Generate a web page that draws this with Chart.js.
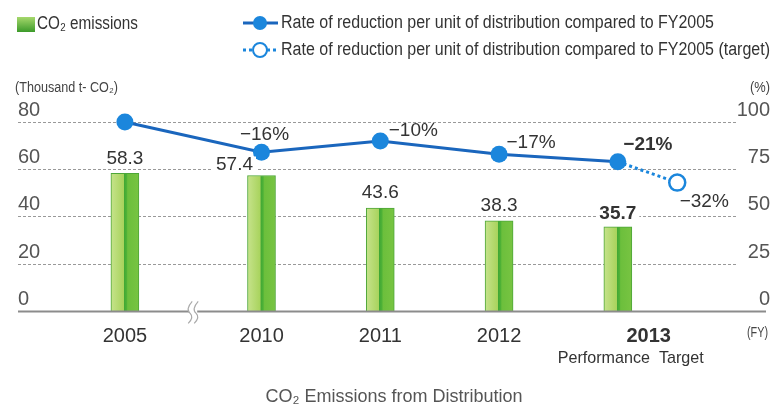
<!DOCTYPE html>
<html>
<head>
<meta charset="utf-8">
<script src="https://cdn.jsdelivr.net/npm/chart.js@4"></script>
<style>
  html, body { margin: 0; padding: 0; background: #fff; }
</style>
</head>
<body>
<canvas id="co2-chart" width="772" height="410"></canvas>
<script>
// Chart data
var years = ['2005', '2010', '2011', '2012', '2013'];
var yearSlots = [-0.15, 1, 2, 3, 4];            // slot of each year on the x scale (gap after 2005)
var labelSlots = [-0.15, 1, 2, 3, 4.26];        // where the year names sit
var emissions = [58.3, 57.4, 43.6, 38.3, 35.7]; // thousand t-CO2
var rateIndex = [100, 84, 90, 83, 79];          // FY2005 = 100
var rateLabels = ['', '−16%', '−10%', '−17%', '−21%'];
var targetSlots = [4, 4.5];
var targetIndex = [79, 68];
var targetLabels = ['', '−32%'];

var REG = '"Liberation Sans", Arial, sans-serif';
var BLUE = '#1a66bd';
var DOT = '#1b86dc';

function toPoints(xs, ys) {
  return xs.map(function (x, i) { return { x: x, y: ys[i] }; });
}

// horizontal two-tone green fill for each bar
function barFill(ctx) {
  var chart = ctx.chart;
  if (!chart.chartArea || ctx.dataIndex === undefined) return '#8cc84b';
  var cx = chart.scales.x.getPixelForValue(yearSlots[ctx.dataIndex]);
  var g = chart.ctx.createLinearGradient(cx - 14, 0, cx + 14, 0);
  g.addColorStop(0, '#c6e38c');
  g.addColorStop(0.46, '#a8d35c');
  g.addColorStop(0.47, '#3fa735');
  g.addColorStop(0.56, '#4fb236');
  g.addColorStop(0.6, '#6cbf3c');
  g.addColorStop(1, '#78c442');
  return g;
}

// condensed text: squeeze horizontally to a given width
function narrowText(c, text, x, y, width, align) {
  var w = c.measureText(text).width;
  var sx = width ? width / w : 0.85;
  c.save();
  c.translate(x, y);
  c.scale(sx, 1);
  c.textAlign = align || 'left';
  c.fillText(text, 0, 0);
  c.restore();
  return sx;
}

/*******************************
* Extra text and marks: legend, labels, axis titles,
* axis break and baseline
*******************************/
var decorations = {
  id: 'decorations',
  afterDatasetsDraw: function (chart) {
    var c = chart.ctx;
    var x = chart.scales.x, y = chart.scales.y, y2 = chart.scales.y2;
    var area = chart.chartArea;
    c.save();

    // baseline
    c.strokeStyle = '#8c8c8c';
    c.lineWidth = 2;
    c.beginPath();
    c.moveTo(area.left, area.bottom);
    c.lineTo(766, area.bottom);
    c.stroke();

    // axis break
    var bx = x.getPixelForValue((yearSlots[0] + yearSlots[1]) / 2);
    c.fillStyle = '#fff';
    c.fillRect(bx - 4, area.bottom - 3, 8, 6);
    c.strokeStyle = '#aaa';
    c.lineWidth = 1.2;
    [-3, 3].forEach(function (d) {
      c.beginPath();
      c.moveTo(bx + d + 2, area.bottom - 10);
      c.quadraticCurveTo(bx + d - 5, area.bottom - 2, bx + d, area.bottom + 2);
      c.quadraticCurveTo(bx + d + 4, area.bottom + 6, bx + d - 2, area.bottom + 12);
      c.stroke();
    });

    // bar value labels
    var barOffs = [[0, -15], [-27, -11], [0, -15], [0, -15], [0, -13]];
    c.textAlign = 'center';
    c.textBaseline = 'middle';
    emissions.forEach(function (v, i) {
      var px = x.getPixelForValue(yearSlots[i]) + barOffs[i][0];
      var py = y.getPixelForValue(v) + barOffs[i][1];
      c.font = (i === 4 ? 'bold ' : '') + '19px ' + REG;
      var w = c.measureText(v.toFixed(1)).width;
      c.fillStyle = '#fff';
      c.fillRect(px - w / 2 - 3, py - 8, w + 6, 16);
      c.fillStyle = '#333';
      c.fillText(v.toFixed(1), px, py);
    });

    // rate labels
    var offs = [[0, 0], [3, -18], [33, -10], [32, -11], [30, -17]];
    rateLabels.forEach(function (t, i) {
      if (!t) return;
      c.font = (i === 4 ? 'bold ' : '') + '19px ' + REG;
      c.fillStyle = '#333';
      c.fillText(t, x.getPixelForValue(yearSlots[i]) + offs[i][0], y2.getPixelForValue(rateIndex[i]) + offs[i][1]);
    });
    targetLabels.forEach(function (t, i) {
      if (!t) return;
      c.font = '19px ' + REG;
      c.fillStyle = '#333';
      c.fillText(t, x.getPixelForValue(targetSlots[i]) + 27, y2.getPixelForValue(targetIndex[i]) + 19);
    });

    // performance target note under 2013
    c.font = '17px ' + REG;
    c.fillStyle = '#333';
    narrowText(c, 'Performance  Target', x.getPixelForValue(labelSlots[4]) - 18, area.bottom + 47, 146, 'center');

    // axis titles
    c.font = '14px ' + REG;
    c.fillStyle = '#444';
    narrowText(c, '(Thousand t- CO₂)', 15, 88, 103);
    narrowText(c, '(%)', 770, 88, 20, 'right');
    narrowText(c, '(FY)', 768, area.bottom + 22, 21, 'right');

    // legend
    var lg = c.createLinearGradient(0, 17, 0, 32);
    lg.addColorStop(0, '#a6d86c');
    lg.addColorStop(1, '#3c9a2a');
    c.fillStyle = lg;
    c.fillRect(17, 17, 18, 15);
    c.font = '18px ' + REG;
    c.fillStyle = '#333';
    narrowText(c, 'CO₂ emissions', 37, 24, 101);

    c.strokeStyle = BLUE;
    c.lineWidth = 3;
    c.beginPath(); c.moveTo(243, 23); c.lineTo(278, 23); c.stroke();
    c.fillStyle = DOT;
    c.beginPath(); c.arc(260, 23, 7, 0, Math.PI * 2); c.fill();
    c.fillStyle = '#333';
    var sx = narrowText(c, 'Rate of reduction per unit of distribution compared to FY2005', 281, 23, 433);

    c.strokeStyle = DOT;
    c.setLineDash([3, 3]);
    c.beginPath(); c.moveTo(243, 50); c.lineTo(278, 50); c.stroke();
    c.setLineDash([]);
    c.fillStyle = '#fff';
    c.lineWidth = 2;
    c.beginPath(); c.arc(260, 50, 7, 0, Math.PI * 2); c.fill(); c.stroke();
    c.fillStyle = '#333';
    var t2 = 'Rate of reduction per unit of distribution compared to FY2005 (target)';
    narrowText(c, t2, 281, 50, c.measureText(t2).width * sx);

    c.restore();
  }
};

new Chart('co2-chart', {
  type: 'bar',
  data: {
    datasets: [{
      type: 'line',
      label: 'Rate of reduction per unit of distribution compared to FY2005',
      data: toPoints(yearSlots, rateIndex),
      yAxisID: 'y2',
      borderColor: BLUE,
      borderWidth: 3,
      pointRadius: 8.5,
      pointBackgroundColor: DOT,
      pointBorderColor: DOT,
      pointBorderWidth: 0,
      clip: false,
      order: 0
    }, {
      type: 'line',
      label: 'Rate of reduction per unit of distribution compared to FY2005 (target)',
      data: toPoints(targetSlots, targetIndex),
      yAxisID: 'y2',
      borderColor: DOT,
      borderWidth: 3,
      borderDash: [3, 3],
      pointRadius: [0, 8],
      pointBackgroundColor: '#fff',
      pointBorderColor: DOT,
      pointBorderWidth: 2.5,
      clip: false,
      order: 1
    }, {
      label: 'CO₂ emissions',
      data: toPoints(yearSlots, emissions),
      yAxisID: 'y',
      barThickness: 28,
      backgroundColor: barFill,
      borderColor: '#4da638',
      borderWidth: 1,
      order: 2
    }]
  },
  options: {
    responsive: false,
    animation: false,
    layout: { padding: { top: 122, left: 18, right: 2, bottom: 0 } },
    plugins: {
      legend: { display: false },
      tooltip: { enabled: false },
      title: {
        display: true,
        position: 'bottom',
        text: 'CO₂ Emissions from Distribution',
        color: '#555',
        font: { family: REG, size: 18, weight: 'normal' },
        padding: { top: 33, bottom: 2 }
      }
    },
    scales: {
      x: {
        type: 'linear',
        offset: false,
        min: -1.05,
        max: 5,
        afterBuildTicks: function (axis) {
          axis.ticks = labelSlots.map(function (v) { return { value: v }; });
        },
        ticks: {
          autoSkip: false,
          maxRotation: 0,
          padding: 5,
          color: '#333',
          font: function (ctx) {
            return { family: REG, size: 20, weight: ctx.index === 4 ? 'bold' : 'normal' };
          },
          callback: function (v, i) { return years[i]; }
        },
        grid: { display: false, offset: false },
        border: { display: false }
      },
      y: {
        position: 'left',
        min: 0,
        max: 80,
        ticks: {
          stepSize: 20,
          mirror: true,
          labelOffset: -12,
          padding: 0,
          color: '#555',
          font: { family: REG, size: 20 }
        },
        grid: { color: '#999', drawTicks: false },
        border: { display: false, dash: [3, 2] }
      },
      y2: {
        position: 'right',
        min: 0,
        max: 100,
        ticks: {
          stepSize: 25,
          labelOffset: -12,
          padding: 0,
          crossAlign: 'far',
          color: '#555',
          font: { family: REG, size: 20 }
        },
        grid: { display: false, drawTicks: false },
        border: { display: false }
      }
    }
  },
  plugins: [decorations]
});
</script>
</body>
</html>
